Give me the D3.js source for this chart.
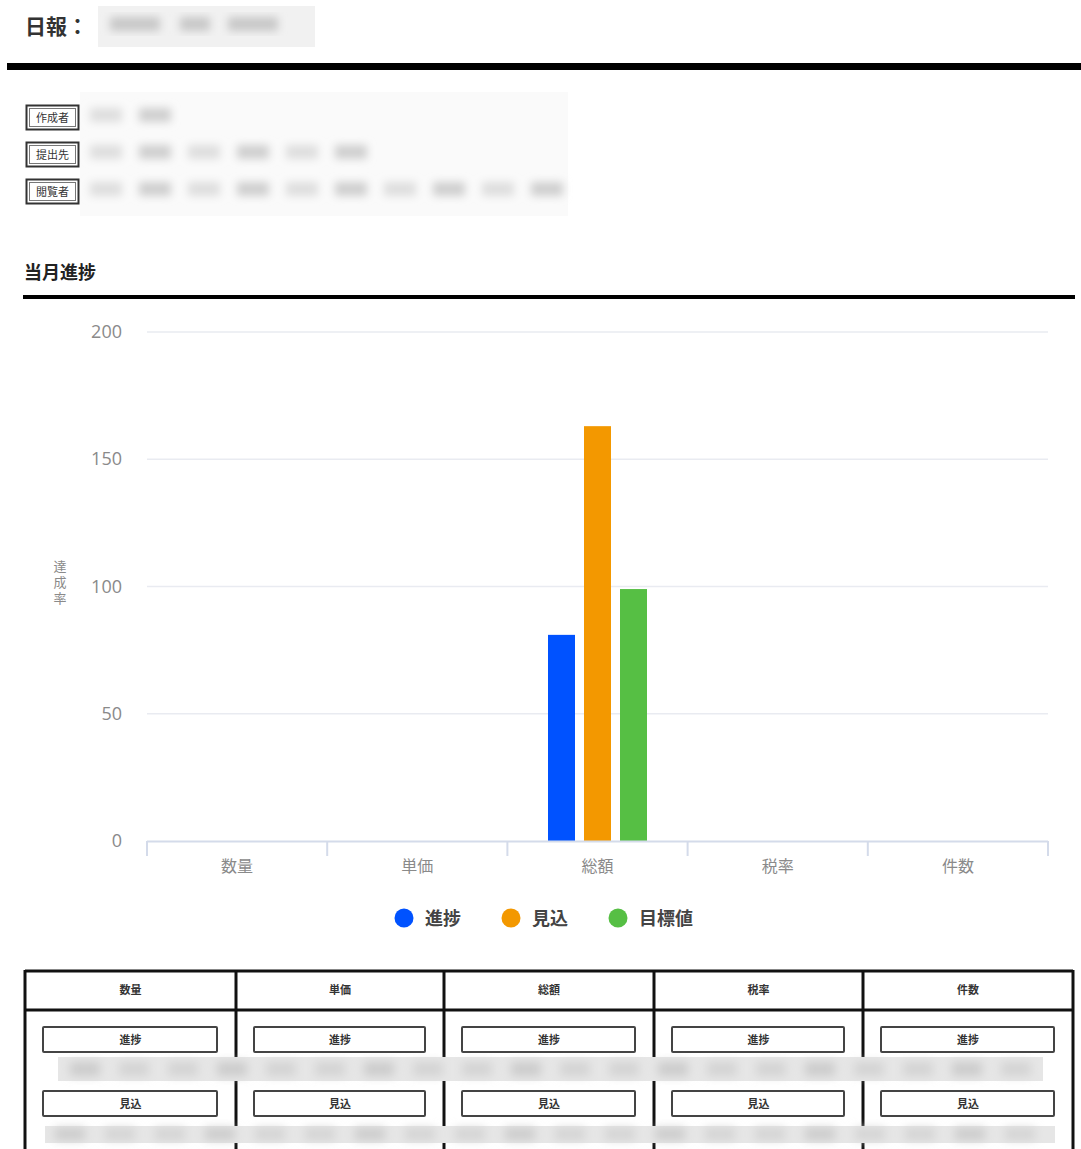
<!DOCTYPE html>
<html><head><meta charset="utf-8">
<script src="https://cdn.jsdelivr.net/npm/d3@7"></script>
<style>
html,body{margin:0;padding:0;background:#fff;}
svg{display:block;font-family:"Noto Sans CJK JP","Noto Sans",sans-serif;}
</style></head>
<body><svg id="c" width="1081" height="1149"></svg>
<script>
const categories = ["数量","単価","総額","税率","件数"];
const seriesNames = ["進捗","見込","目標値"];
const seriesColors = ["#0052FF","#F39800","#56BF44"];
const progress = [0,0,81,0,0];
const forecast = [0,0,163,0,0];
const target   = [0,0,99,0,0];
const yTicks = [0,50,100,150,200];
const infoLabels = ["作成者","提出先","閲覧者"];
const yAxisName = "達成率";

const svg = d3.select("#c");
const defs = svg.append("defs");
defs.append("filter").attr("id","blur").attr("x","-10%").attr("y","-30%").attr("width","120%").attr("height","160%")
  .append("feGaussianBlur").attr("stdDeviation",4);
defs.append("filter").attr("id","blur2").attr("x","-10%").attr("y","-50%").attr("width","120%").attr("height","200%")
  .append("feGaussianBlur").attr("stdDeviation",5);

// Title
svg.append("text").attr("x",25).attr("y",34).attr("font-size",21).attr("font-weight","bold").attr("fill","#333").text("日報：");
svg.append("rect").attr("x",98).attr("y",6).attr("width",217).attr("height",41).attr("fill","#f1f1f1");
const tb = svg.append("g").attr("filter","url(#blur)");
[[110,50],[180,30],[228,50]].forEach(([x,w])=>tb.append("rect").attr("x",x).attr("y",17).attr("width",w).attr("height",14).attr("fill","#c8c8c8"));
svg.append("rect").attr("x",7).attr("y",63).attr("width",1074).attr("height",7).attr("fill","#000");

// info block
svg.append("rect").attr("x",80).attr("y",92).attr("width",488).attr("height",124).attr("fill","#fafafa");
infoLabels.forEach((l,i)=>{
  const y = 105 + i*37;
  svg.append("rect").attr("x",26.5).attr("y",y+0.5).attr("width",52).attr("height",24).attr("fill","#fff").attr("stroke","#333").attr("stroke-width",2);
  svg.append("rect").attr("x",29.5).attr("y",y+3.5).attr("width",46).attr("height",18).attr("fill","none").attr("stroke","#777").attr("stroke-width",1);
  svg.append("text").attr("x",52.5).attr("y",y+17).attr("text-anchor","middle").attr("font-size",11).attr("fill","#333").text(l);
});
const ib = svg.append("g").attr("filter","url(#blur)");
[2,6,10].forEach((cnt,ri)=>{
  const y = 108 + ri*37;
  for(let k=0;k<cnt;k++){
    ib.append("rect").attr("x",90+k*49).attr("y",y).attr("width",32).attr("height",14).attr("fill",k%2? "#cfcfcf":"#dedede");
  }
});

// Section title
svg.append("text").attr("x",24).attr("y",279).attr("font-size",18).attr("font-weight","bold").attr("fill","#222").text("当月進捗");
svg.append("rect").attr("x",23).attr("y",295).attr("width",1052).attr("height",4).attr("fill","#000");

// Chart
const x0 = d3.scaleBand().domain(categories).range([147,1048]);
const y = d3.scaleLinear().domain([0,200]).range([841,332]);
const bw = x0.bandwidth();
const x1 = d3.scaleBand().domain(seriesNames).range([bw/2-49.5, bw/2+49.5]).paddingInner(0.25).paddingOuter(0);

const grid = svg.append("g");
yTicks.forEach(t=>{
  if(t>0) grid.append("line").attr("x1",147).attr("x2",1048).attr("y1",y(t)).attr("y2",y(t)).attr("stroke","#E9EBF1").attr("stroke-width",1.5);
  grid.append("text").attr("x",122).attr("y",y(t)+6).attr("text-anchor","end").attr("font-size",18).attr("fill","#8a8a8a").attr("font-family","'Open Sans',sans-serif").text(t);
});

const series = [progress,forecast,target];
const bars = svg.append("g");
categories.forEach((c,ci)=>{
  seriesNames.forEach((s,si)=>{
    const v = series[si][ci];
    if(v>0) bars.append("rect").attr("x",x0(c)+x1(s)).attr("y",y(v)).attr("width",x1.bandwidth()).attr("height",y(0)-y(v)).attr("fill",seriesColors[si]);
  });
});

// x axis
const xa = svg.append("g");
xa.append("line").attr("x1",147).attr("x2",1048).attr("y1",841.5).attr("y2",841.5).attr("stroke","#D4DBEA").attr("stroke-width",2);
const tickXs = categories.map(c=>x0(c)).concat([1048]);
tickXs.forEach(tx=>xa.append("line").attr("x1",tx).attr("x2",tx).attr("y1",841).attr("y2",856).attr("stroke","#D4DBEA").attr("stroke-width",2));
categories.forEach(c=>xa.append("text").attr("x",x0(c)+bw/2).attr("y",872).attr("text-anchor","middle").attr("font-size",16).attr("fill","#8a8a8a").text(c));

// y axis name (vertical)
svg.append("text").attr("x",60).attr("y",560).attr("font-size",13).attr("fill","#8a8a8a")
  .attr("writing-mode","tb").style("writing-mode","vertical-rl").attr("letter-spacing",3).text(yAxisName);

// legend
const legX = [404,511,618];
seriesNames.forEach((s,i)=>{
  svg.append("circle").attr("cx",legX[i]).attr("cy",918).attr("r",9.5).attr("fill",seriesColors[i]);
  svg.append("text").attr("x",legX[i]+21).attr("y",925).attr("font-size",18).attr("font-weight","bold").attr("fill","#444").text(s);
});

// table
const colX = [25,236,444,654,863,1073];
const tg = svg.append("g");
tg.append("line").attr("x1",25).attr("x2",1073).attr("y1",971).attr("y2",971).attr("stroke","#111").attr("stroke-width",3);
tg.append("line").attr("x1",25).attr("x2",1073).attr("y1",1010).attr("y2",1010).attr("stroke","#111").attr("stroke-width",3);
colX.forEach(cx=>tg.append("line").attr("x1",cx).attr("x2",cx).attr("y1",970).attr("y2",1149).attr("stroke","#111").attr("stroke-width",3));
categories.forEach((c,i)=>{
  const cx = (colX[i]+colX[i+1])/2;
  tg.append("text").attr("x",cx).attr("y",994).attr("text-anchor","middle").attr("font-size",11).attr("font-weight","bold").attr("fill","#333").text(c);
  [["進捗",1027],["見込",1091]].forEach(([l,by])=>{
    tg.append("rect").attr("x",colX[i]+18).attr("y",by).attr("width",colX[i+1]-colX[i]-37).attr("height",25).attr("fill","#fff").attr("stroke","#444").attr("stroke-width",2).attr("rx",1);
    tg.append("text").attr("x",cx).attr("y",by+17).attr("text-anchor","middle").attr("font-size",11).attr("font-weight","bold").attr("fill","#333").text(l);
  });
});
// blurred value strips
svg.append("rect").attr("x",58).attr("y",1057).attr("width",985).attr("height",24).attr("fill","#e6e6e6");
svg.append("rect").attr("x",45).attr("y",1126).attr("width",1010).attr("height",17).attr("fill","#e6e6e6");
const vb = svg.append("g").attr("filter","url(#blur2)");
for(let k=0;k<20;k++){
  vb.append("rect").attr("x",70+k*49).attr("y",1062).attr("width",30).attr("height",14).attr("fill",k%3? "#d4d4d4":"#cccccc");
  vb.append("rect").attr("x",55+k*50).attr("y",1128).attr("width",30).attr("height",12).attr("fill",k%3? "#d4d4d4":"#cccccc");
}
</script></body></html>
